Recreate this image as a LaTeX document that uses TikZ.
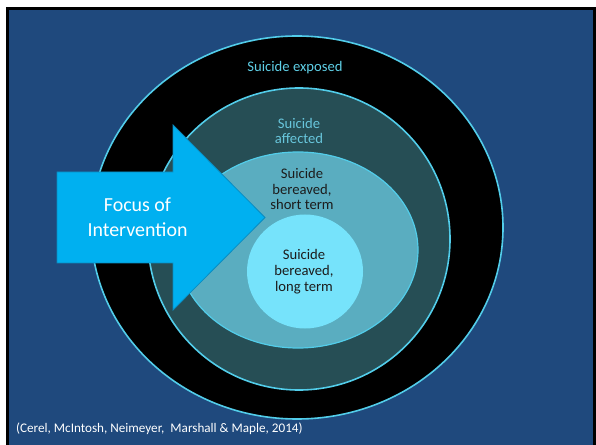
\documentclass[tikz,border=0pt]{standalone}
\usepackage{fontspec}
\setmainfont{Carlito}
\usetikzlibrary{shapes.geometric}

\definecolor{slideblue}{HTML}{1F497D}
\definecolor{ringline}{HTML}{52CDEA}
\definecolor{affectfill}{HTML}{264E55}
\definecolor{shortfill}{HTML}{5AADC0}
\definecolor{longfill}{HTML}{76E3FB}
\definecolor{arrowfill}{HTML}{00B0F0}
\definecolor{arrowedge}{HTML}{0A8CC0}
\definecolor{exposedtext}{HTML}{5FCFE6}
\definecolor{affectedtext}{HTML}{68C6DC}
\definecolor{darktext}{HTML}{1C1C1C}

\tikzset{
  ring/.style={ellipse, draw=ringline, line width=1.6bp, inner sep=0pt},
  label14/.style={align=center, inner sep=0pt, font=\fontsize{14.7}{16}\selectfont},
}

\begin{document}
\begin{tikzpicture}[x=1bp,y=-1bp]
  % page and slide frame
  \fill[white] (0,0) rectangle (596,445);
  \useasboundingbox (0,0) rectangle (596,445);
  \draw[black, line width=2.6bp, fill=slideblue] (7.5,8.3) rectangle (594.7,452);

  % nested rings
  \node[ring, fill=black, minimum width=412bp, minimum height=383bp] (exposed) at (297,227.5) {};
  \node[ring, fill=affectfill, minimum width=302bp, minimum height=302bp] (affected) at (299,239) {};
  \node[ring, fill=shortfill, line width=1.2bp, minimum width=240bp, minimum height=196bp] (short) at (298,250) {};
  \node[ellipse, fill=longfill, inner sep=0pt, minimum width=116bp, minimum height=114bp] (long) at (305,271.5) {};

  % ring labels
  \node[label14, text=exposedtext] (exposedlbl) at (295,68) {Suicide exposed};
  \node[label14, text=affectedtext] (affectedlbl) at (299,131) {Suicide\\affected};
  \node[label14, text=darktext] (shortlbl) at (302,189) {Suicide\\bereaved,\\short term};
  \node[label14, text=darktext] (longlbl) at (304,272) {Suicide\\bereaved,\\long term};

  % block arrow
  \draw[fill=arrowfill, draw=arrowedge, line width=0.8bp, line join=miter]
    (57,172) -- (173,172) -- (173,125) -- (265,217.5) -- (173,310) -- (173,263) -- (57,263) -- cycle;
  \node[align=center, text=white, inner sep=0pt, font=\fontsize{20}{25}\selectfont] (focus) at (137.5,217) {Focus of\\Intervention};

  % source line
  \node[anchor=base west, text=white, inner sep=0pt, font=\fontsize{13.2}{15}\selectfont] (source) at (16,432)
    {(Cerel, McIntosh, Neimeyer,\ \ Marshall \& Maple, 2014)};
\end{tikzpicture}
\end{document}
